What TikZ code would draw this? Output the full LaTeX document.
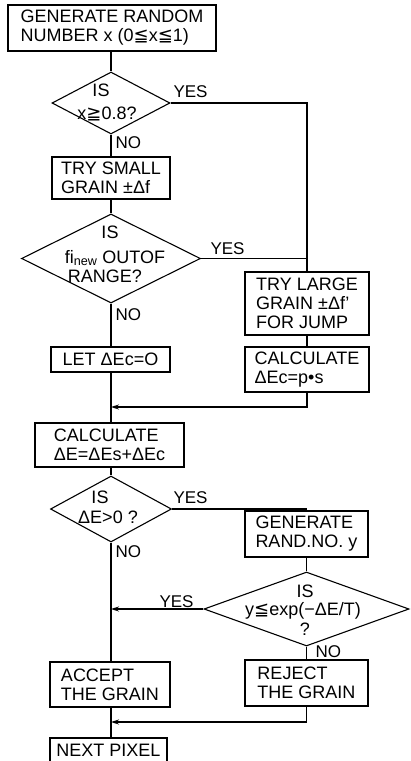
\documentclass[tikz,border=0pt]{standalone}
\usepackage{fontspec}
\setmainfont{Liberation Sans}
\newfontfamily\symfont{DejaVu Sans}
\usetikzlibrary{arrows.meta,shapes.geometric}
\newcommand{\lqq}{{\symfont ≦}}
\newcommand{\gqq}{{\symfont ≧}}

\begin{document}
\begin{tikzpicture}[x=1bp, y=-1bp, line width=1.1bp,
  every node/.style={font=\fontsize{18bp}{19bp}\selectfont},
  box/.style={draw, rectangle, inner sep=2bp, align=left},
  decision/.style={draw, diamond, inner sep=0pt},
  txt/.style={anchor=base, inner sep=0pt},
  lbl/.style={anchor=base west, inner sep=0pt, font=\fontsize{17bp}{18bp}\selectfont},
  arr/.style={-{Stealth[length=8bp,width=5bp]}}]

\useasboundingbox (0,0) rectangle (410,761);

% process boxes
\node[box, minimum width=208bp, minimum height=46bp] (gen) at (112,28)
  {GENERATE RANDOM\\NUMBER x (0\lqq x\lqq 1)};
\node[box, minimum width=118bp, minimum height=42bp] (small) at (111,178)
  {TRY SMALL\\GRAIN ±Δf};
\node[box, minimum width=124bp, minimum height=63bp] (large) at (307,303.5)
  {TRY LARGE\\GRAIN ±Δf’\\FOR JUMP};
\node[box, minimum width=119bp, minimum height=25bp] (letec) at (110.5,359.5)
  {LET ΔEc=O};
\node[box, minimum width=124bp, minimum height=45bp] (calcec) at (307,369.5)
  {CALCULATE\\ΔEc=p•s};
\node[box, minimum width=149bp, minimum height=44bp] (calce) at (109.5,445)
  {CALCULATE\\ΔE=ΔEs+ΔEc};
\node[box, minimum width=123bp, minimum height=46bp] (geny) at (306.5,534)
  {GENERATE\\RAND.NO. y};
\node[box, minimum width=120bp, minimum height=45bp] (accept) at (110,684.5)
  {ACCEPT\\THE GRAIN};
\node[box, minimum width=123bp, minimum height=46bp] (reject) at (306.5,683)
  {REJECT\\THE GRAIN};
\node[box, minimum width=117bp, minimum height=25bp] (next) at (108.5,750.5)
  {NEXT PIXEL};

% decisions
\node[decision, minimum width=118bp, minimum height=62bp] (d1) at (111,103) {};
\node[decision, minimum width=179bp, minimum height=89bp] (d2) at (111,258.5) {};
\node[decision, minimum width=121bp, minimum height=66bp] (d3) at (111,509) {};
\node[decision, minimum width=205bp, minimum height=74bp] (d4) at (306.5,609) {};

% decision texts
\node[txt] (d1a) at (101,96) {IS};
\node[txt] (d1b) at (107,119) {x\gqq 0.8?};
\node[txt] (d2a) at (110,238) {IS};
\node[txt] (d2b) at (115,263) {fi$_{\mathrm{new}}$ OUTOF};
\node[txt] (d2c) at (105,282) {RANGE?};
\node[txt] (d3a) at (100,503) {IS};
\node[txt] (d3b) at (108,523) {ΔE>0 ?};
\node[txt] (d4a) at (305,597) {IS};
\node[txt] (d4b) at (303,615) {y\lqq exp(−ΔE/T)};
\node[txt] (d4c) at (305,635) {?};

% branch labels
\node[lbl] (y1) at (173,97) {YES};
\node[lbl] (n1) at (115,148) {NO};
\node[lbl] (y2) at (210,254) {YES};
\node[lbl] (n2) at (115,320) {NO};
\node[lbl] (y3) at (173,503) {YES};
\node[lbl] (n3) at (115,557) {NO};
\node[lbl] (y4) at (159,607) {YES};
\node[lbl] (n4) at (315,657) {NO};

% junction points on the main line
\coordinate (j1) at (111,407);
\coordinate (j3) at (111,722);

% connectors
\draw (d1.north |- gen.south) -- (d1.north);
\draw (d1.east) -| (large.north);
\draw (d1.south) -- (small.north);
\draw (small.south) -- (d2.north);
\draw (d2.east) -- (d2.east -| large.north);
\draw (d2.south) -- (d2.south |- letec.north);
\draw (large.south) -- (calcec.north);
\draw[arr] (calcec.south) |- (j1);
\draw (letec.south -| j1) -- (j1 |- calce.north);
\draw (d3.north |- calce.south) -- (d3.north);
\draw (d3.east) -| (geny.north);
\draw (d3.south) -- (d3.south |- accept.north);
\draw (geny.south) -- (d4.north);
\draw[arr] (d4.west) -- (d4.west -| j1);
\draw (d4.south) -- (d4.south |- reject.north);
\draw[arr] (reject.south) |- (j3);
\draw (accept.south -| j1) -- (j1 |- next.north);
\end{tikzpicture}
\end{document}
